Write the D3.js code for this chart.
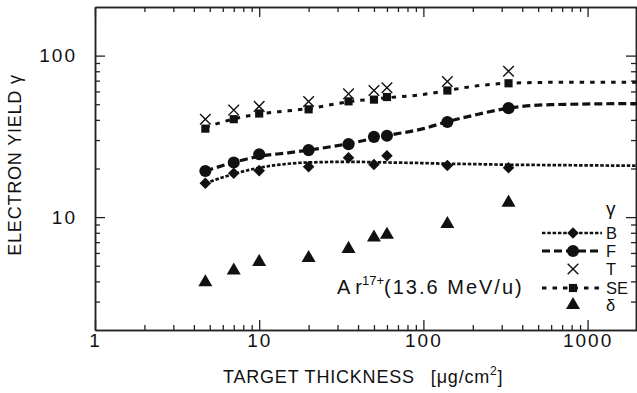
<!DOCTYPE html>
<html>
<head>
<meta charset="utf-8">
<script src="https://cdn.jsdelivr.net/npm/d3@7"></script>
<style>
  body { margin: 0; background: #fff; }
  svg { display: block; font-family: 'Liberation Sans', Arial, sans-serif; }
</style>
</head>
<body>
<div id="svg-container"></div>
<script>
// measured points
const thickness = [4.7, 7, 10, 20, 35, 50, 60, 140, 330];
const yieldB = [16.2, 18.7, 19.4, 20.5, 23.3, 21.2, 24, 20.9, 20.2];
const yieldF = [19.3, 21.8, 24.5, 26, 28.3, 31.4, 31.9, 38.8, 47.3];
const yieldT = [40.4, 46, 48.5, 52, 58, 60.8, 63.2, 69.2, 80];
const yieldSE = [35.3, 40.4, 43.8, 46.5, 52.1, 53.4, 55.4, 60.8, 67.4];
const yieldDelta = [3.95, 4.67, 5.28, 5.58, 6.36, 7.48, 7.78, 9.06, 12.3];

// fitted curves
const fitX = [4.7, 7, 10, 15, 20, 35, 60, 100, 140, 200, 330, 600, 2000];
const fitB = [16.2, 18.5, 20.2, 21.4, 21.8, 22, 21.8, 21.6, 21.4, 21.3, 21.1, 21, 20.8];
const fitF = [19.3, 21.8, 23.8, 25, 26, 28.5, 32, 35.3, 39, 42.6, 47.3, 49.7, 50.5];
const fitSE = [36, 40.5, 43.5, 45.5, 47, 51.8, 54.8, 57.5, 60.8, 64.5, 67.5, 68.3, 68.5];

const xMajorTicks = [1, 10, 100, 1000];
const xMinorTicks = [2, 3, 4, 5, 6, 7, 8, 9, 20, 30, 40, 50, 60, 70, 80, 90, 200, 300, 400, 500, 600, 700, 800, 900];
const yMajorTicks = [10, 100];
const yMinorTicks = [3, 4, 5, 6, 7, 8, 9, 20, 30, 40, 50, 60, 70, 80, 90];

const legendLabels = ['B', 'F', 'T', 'SE', 'δ'];

const WIDTH = 637;
const HEIGHT = 393;
const LEFT = 95;
const RIGHT = 637;
const TOP = 7;
const BOTTOM = 330;

const svg = d3.create('svg').attr('width', WIDTH).attr('height', HEIGHT);

const xScale = d3.scaleLog().domain([1, 2000]).range([LEFT, RIGHT]);
const yScale = d3.scaleLog().domain([2, 200]).range([BOTTOM, TOP]);

// axes: ticks point inward on all four sides
const drawAxis = (axisFn, scale, transform, ticks, size, padding) => {
  const g = svg
    .append('g')
    .attr('transform', transform)
    .call(
      axisFn(scale)
        .tickValues(ticks)
        .tickSize(-size)
        .tickSizeOuter(0)
        .tickPadding(padding || 0)
        .tickFormat(padding ? d3.format('d') : '')
    );
  g.select('.domain').attr('stroke', '#222').attr('stroke-width', 1.5);
  g.selectAll('.tick line').attr('stroke', '#222').attr('stroke-width', 1.3);
  g.selectAll('.tick text')
    .attr('fill', '#111')
    .attr('letter-spacing', '2px')
    .style('font-size', '19px')
    .style('font-family', "'Liberation Sans', Arial, sans-serif");
  return g;
};

drawAxis(d3.axisBottom, xScale, `translate(0,${BOTTOM})`, xMinorTicks, 5);
drawAxis(d3.axisBottom, xScale, `translate(0,${BOTTOM})`, xMajorTicks, 10, 3);
drawAxis(d3.axisTop, xScale, `translate(0,${TOP})`, xMinorTicks, 5);
drawAxis(d3.axisTop, xScale, `translate(0,${TOP})`, xMajorTicks, 10);
drawAxis(d3.axisLeft, yScale, `translate(${LEFT},0)`, yMinorTicks, 5);
drawAxis(d3.axisLeft, yScale, `translate(${LEFT},0)`, yMajorTicks, 10, 18);
drawAxis(d3.axisRight, yScale, `translate(${RIGHT - 1},0)`, yMinorTicks, 5);
drawAxis(d3.axisRight, yScale, `translate(${RIGHT - 1},0)`, yMajorTicks, 10);

// fitted curves
const line = d3
  .line()
  .x((d) => xScale(d[0]))
  .y((d) => yScale(d[1]))
  .curve(d3.curveMonotoneX);

const curves = [
  { values: fitB, dash: '3.5,1.8', width: 2.7 },
  { values: fitF, dash: '8,4', width: 3.2 },
  { values: fitSE, dash: '4.5,6', width: 3 },
];

curves.forEach((c) => {
  svg
    .append('path')
    .datum(fitX.map((x, i) => [x, c.values[i]]))
    .attr('fill', 'none')
    .attr('stroke', '#111')
    .attr('stroke-width', c.width)
    .attr('stroke-dasharray', c.dash)
    .attr('d', line);
});

// markers
const symbolB = d3.symbol().type(d3.symbolDiamond2).size(85);
const symbolF = d3.symbol().type(d3.symbolCircle).size(115);
const symbolT = d3.symbol().type(d3.symbolX).size(75);
const symbolSE = d3.symbol().type(d3.symbolSquare2).size(85);
const symbolDelta = d3.symbol().type(d3.symbolTriangle).size(85);

const markerStyles = [
  { values: yieldB, sym: symbolB, fill: '#111', stroke: 'none' },
  { values: yieldF, sym: symbolF, fill: '#111', stroke: 'none' },
  { values: yieldT, sym: symbolT, fill: 'none', stroke: '#111' },
  { values: yieldSE, sym: symbolSE, fill: '#111', stroke: 'none' },
  { values: yieldDelta, sym: symbolDelta, fill: '#111', stroke: 'none' },
];

markerStyles.forEach((m) => {
  svg
    .append('g')
    .selectAll('path')
    .data(thickness.map((x, i) => [x, m.values[i]]))
    .join('path')
    .attr('transform', (d) => `translate(${xScale(d[0])},${yScale(d[1])})`)
    .attr('d', m.sym)
    .attr('fill', m.fill)
    .attr('stroke', m.stroke)
    .attr('stroke-width', 1.4);
});

// legend
const legend = svg.append('g').attr('transform', 'translate(542,0)');
const legendRows = [233, 251, 269, 288, 305];
const legendLines = [curves[0], curves[1], null, curves[2], null];

legend
  .append('text')
  .attr('x', 64)
  .attr('y', 215)
  .style('font-size', '19px')
  .attr('fill', '#111')
  .text('γ');

legendLabels.forEach((label, i) => {
  const y = legendRows[i];
  const lc = legendLines[i];
  if (lc) {
    legend
      .append('line')
      .attr('x1', 0)
      .attr('x2', 60)
      .attr('y1', y)
      .attr('y2', y)
      .attr('stroke', '#111')
      .attr('stroke-width', lc.width)
      .attr('stroke-dasharray', lc.dash);
  }
  legend
    .append('path')
    .attr('transform', `translate(31,${y})`)
    .attr('d', markerStyles[i].sym)
    .attr('fill', markerStyles[i].fill)
    .attr('stroke', markerStyles[i].stroke)
    .attr('stroke-width', 1.4);
  legend
    .append('text')
    .attr('x', 64)
    .attr('y', y + 6)
    .style('font-size', '16.5px')
    .attr('fill', '#111')
    .text(label);
});

// annotation
const note = svg
  .append('text')
  .attr('x', 337)
  .attr('y', 294)
  .style('font-size', '20px')
  .attr('fill', '#111');
note.append('tspan').attr('letter-spacing', '5px').text('A');
note.append('tspan').text('r');
note.append('tspan').attr('dy', -9).style('font-size', '13px').text('17+');
note.append('tspan').attr('dy', 9).attr('letter-spacing', '2px').text('(13.6 MeV/u)');

// axis titles
const xTitle = svg
  .append('text')
  .attr('x', 223)
  .attr('y', 383)
  .style('font-size', '18px')
  .attr('letter-spacing', '0.8px')
  .attr('fill', '#111');
xTitle.append('tspan').text('TARGET THICKNESS');
xTitle.append('tspan').attr('dx', 16).text('[μg/cm');
xTitle.append('tspan').attr('dy', -8).style('font-size', '12px').text('2');
xTitle.append('tspan').attr('dy', 8).text(']');

svg
  .append('text')
  .attr('transform', 'translate(21,165) rotate(-90)')
  .attr('text-anchor', 'middle')
  .style('font-size', '18px')
  .attr('letter-spacing', '0.8px')
  .attr('fill', '#111')
  .text('ELECTRON YIELD γ');

document.getElementById('svg-container').appendChild(svg.node());
</script>
</body>
</html>
